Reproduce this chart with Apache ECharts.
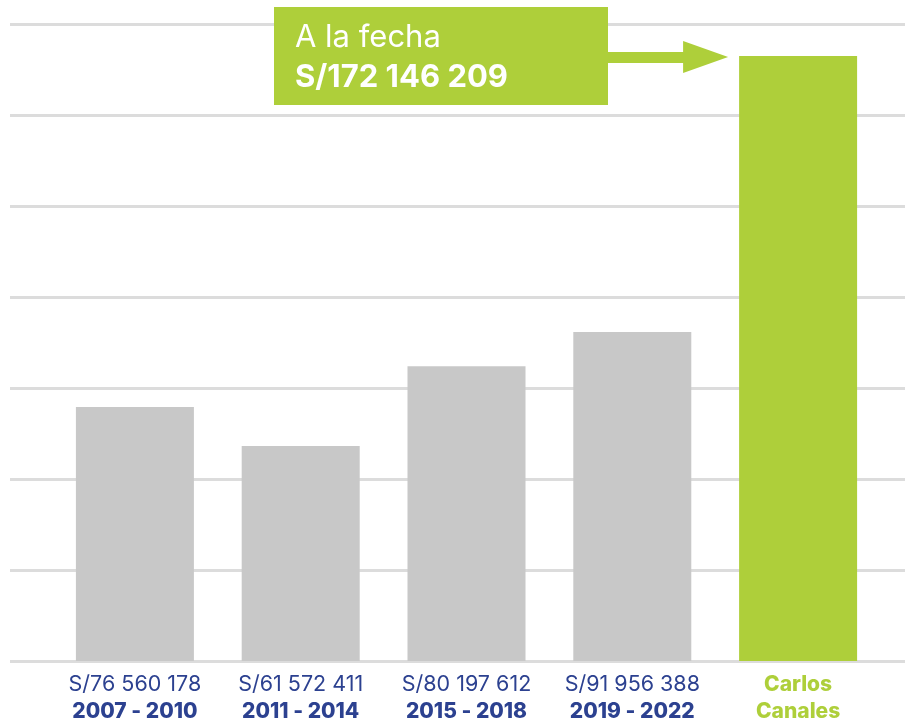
<!DOCTYPE html>
<html>
<head>
<meta charset="utf-8">
<script src="https://cdn.jsdelivr.net/npm/echarts@6/dist/echarts.min.js"></script>
<style>
  html, body { margin: 0; padding: 0; background: #fff; }
  #chart { width: 919px; height: 724px; }
</style>
</head>
<body>
<div id="chart"></div>
<script>
// bar heights (millions of soles, gridline every 25)
const categories = ['2007 - 2010', '2011 - 2014', '2015 - 2018', '2019 - 2022', 'Carlos Canales']
const amountLabels = ['S/76 560 178', 'S/61 572 411', 'S/80 197 612', 'S/91 956 388', 'Carlos']
const periodLabels = ['2007 - 2010', '2011 - 2014', '2015 - 2018', '2019 - 2022', 'Canales']
const barValues = [69.8, 59.1, 81.0, 90.4, 166.2]
const highlightIndex = 4
const calloutTitle = 'A la fecha'
const calloutAmount = 'S/172 146 209'

const NAVY = '#2c4190'
const GREEN = '#aecf3a'
const GRAY = '#c8c8c8'
const FONT = 'Inter, "Noto Sans", sans-serif'

const chart = echarts.init(document.getElementById('chart'))

chart.setOption({
  animation: false,
  grid: [
    { left: 10, right: 14, top: 24, bottom: 63 },
    { left: 52, right: 38, top: 24, bottom: 63 },
  ],
  xAxis: [
    { gridIndex: 0, type: 'value', show: false, min: 0, max: 1 },
    {
      gridIndex: 1,
      type: 'category',
      data: categories,
      axisLine: { show: false },
      axisTick: { show: false },
      axisLabel: {
        margin: 10,
        interval: 0,
        fontFamily: FONT,
        formatter: (_v, i) => {
          if (i === highlightIndex) return `{g|${amountLabels[i]}}\n{g|${periodLabels[i]}}`
          return `{a|${amountLabels[i]}}\n{b|${periodLabels[i]}}`
        },
        rich: {
          a: { fontFamily: FONT, fontSize: 21.5, color: NAVY, lineHeight: 27 },
          b: { fontFamily: FONT, fontSize: 21, fontWeight: 800, color: NAVY, lineHeight: 27 },
          g: { fontFamily: FONT, fontSize: 21, fontWeight: 800, color: GREEN, lineHeight: 27 },
        },
      },
    },
  ],
  yAxis: [
    {
      gridIndex: 0,
      type: 'value',
      min: 0,
      max: 175,
      interval: 25,
      axisLine: { show: false },
      axisTick: { show: false },
      axisLabel: { show: false },
      splitLine: { lineStyle: { color: '#dcdcdc', width: 3 } },
    },
    { gridIndex: 1, type: 'value', min: 0, max: 175, show: false },
  ],
  series: [
    {
      type: 'bar',
      xAxisIndex: 1,
      yAxisIndex: 1,
      barWidth: 118,
      z: 3,
      data: barValues.map((v, i) => ({
        value: v,
        itemStyle: { color: i === highlightIndex ? GREEN : GRAY },
      })),
    },
  ],
})

// callout box + arrow pointing at the top of the highlighted bar
const tip = chart.convertToPixel({ xAxisIndex: 1, yAxisIndex: 1 }, [highlightIndex, barValues[highlightIndex]])
const tipX = tip[0] - 59 - 11
const tipY = tip[1] + 1
const boxX = 274, boxY = 7, boxW = 334, boxH = 98

chart.setOption({
  graphic: [
    { type: 'rect', shape: { x: boxX, y: boxY, width: boxW, height: boxH }, style: { fill: GREEN }, z: 10 },
    {
      type: 'polygon',
      z: 10,
      shape: {
        points: [
          [boxX + boxW, tipY - 5], [tipX - 45, tipY - 5], [tipX - 45, tipY - 16],
          [tipX, tipY], [tipX - 45, tipY + 16], [tipX - 45, tipY + 6], [boxX + boxW, tipY + 6],
        ],
      },
      style: { fill: GREEN },
    },
    {
      type: 'text', z: 11, x: 295, y: 38,
      style: { text: calloutTitle, fill: '#fff', font: `31px ${FONT}`, verticalAlign: 'middle' },
    },
    {
      type: 'text', z: 11, x: 295, y: 78,
      style: { text: calloutAmount, fill: '#fff', font: `bold 31px ${FONT}`, verticalAlign: 'middle' },
    },
  ],
})
</script>
</body>
</html>
